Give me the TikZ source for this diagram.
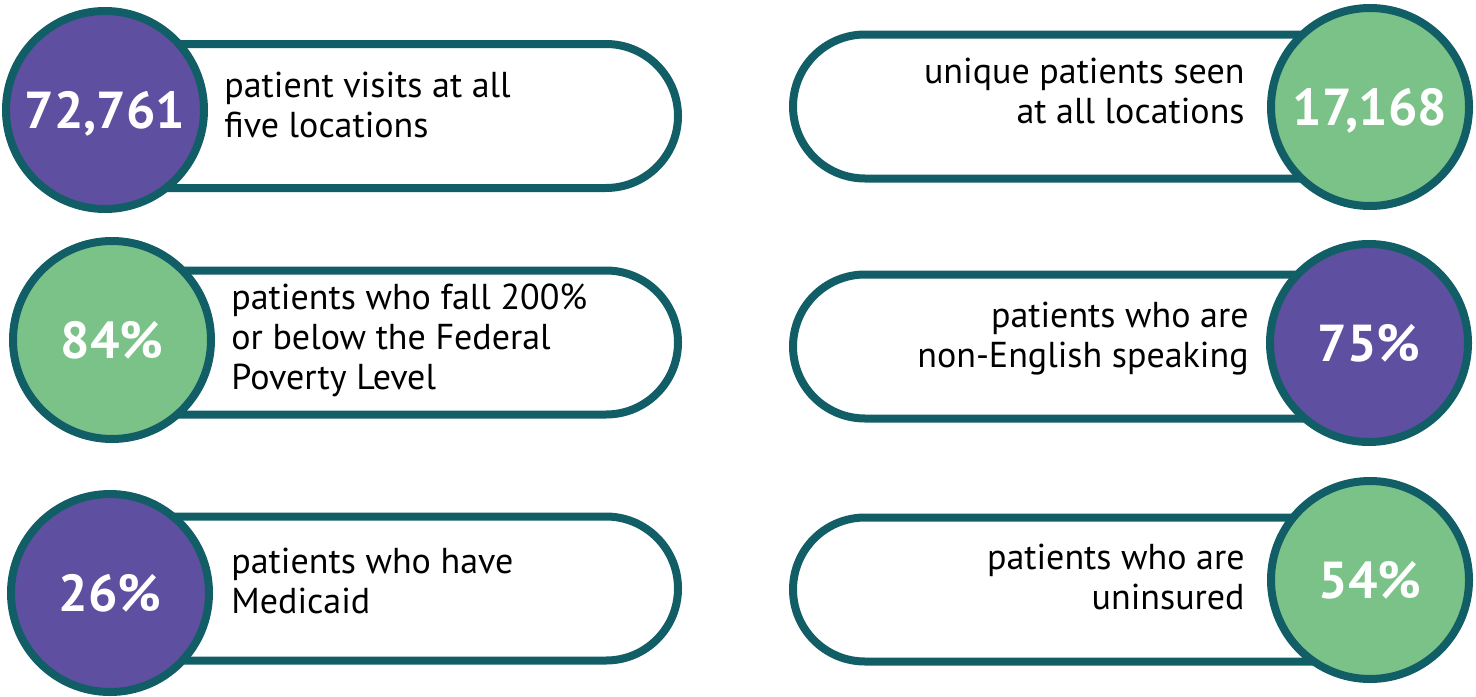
\documentclass[tikz,border=0pt]{standalone}
\usepackage{fontspec}
\setmainfont{PT Sans}
\usetikzlibrary{shapes.misc}
\definecolor{teal}{HTML}{115E67}
\definecolor{violet}{HTML}{5F4FA0}
\definecolor{leaf}{HTML}{7BC288}
\tikzset{
  pill/.style={draw=teal, line width=4pt, fill=white, rounded rectangle, minimum height=72pt, inner sep=0pt},
  stat/.style={circle, draw=teal, line width=4pt, minimum size=99pt, inner sep=0pt, text=white, font=\fontsize{26}{30}\selectfont\bfseries, text depth=0pt},
  purplestat/.style={stat, fill=violet},
  greenstat/.style={stat, fill=leaf},
  lbl/.style={inner sep=0pt, font=\fontsize{18}{19.8}\selectfont, text=black},
  lblL/.style={lbl, align=left, anchor=base west},
  lblR/.style={lbl, align=right, anchor=base east}
}
\begin{document}
\begin{tikzpicture}[x=0.5pt, y=-0.5pt]
\useasboundingbox (0,0) rectangle (1476,696);
% left column
\node[pill, minimum width=309pt] (p1) at (369,116) {};
\node[purplestat] (c1) at (105,110) {72,761};
\node[lblL] (t1) at (224,137) {patient visits at all\\five locations};

\node[pill, minimum width=309pt] (p3) at (369,342.5) {};
\node[greenstat] (c3) at (112,340) {84\%};
\node[lblL] (t3) at (231,389) {patients who fall 200\%\\or below the Federal\\Poverty Level};

\node[pill, minimum width=309pt] (p5) at (369,588.5) {};
\node[purplestat] (c5) at (110,593) {26\%};
\node[lblL] (t5) at (231,613) {patients who have\\Medicaid};

% right column
\node[pill, minimum width=303.5pt] (p2) at (1096.5,106.5) {};
\node[greenstat] (c2) at (1370,107) {17,168};
\node[lblR] (t2) at (1245,123) {unique patients seen\hspace{3pt}\\at all locations};

\node[pill, minimum width=303.5pt] (p4) at (1096.5,346.5) {};
\node[purplestat] (c4) at (1369,343) {75\%};
\node[lblR] (t4) at (1249,367) {patients who are\hspace{3pt}\\non-English speaking};

\node[pill, minimum width=303.5pt] (p6) at (1096.5,589.5) {};
\node[greenstat] (c6) at (1370,580) {54\%};
\node[lblR] (t6) at (1245,609) {patients who are\\uninsured};
\end{tikzpicture}
\end{document}
